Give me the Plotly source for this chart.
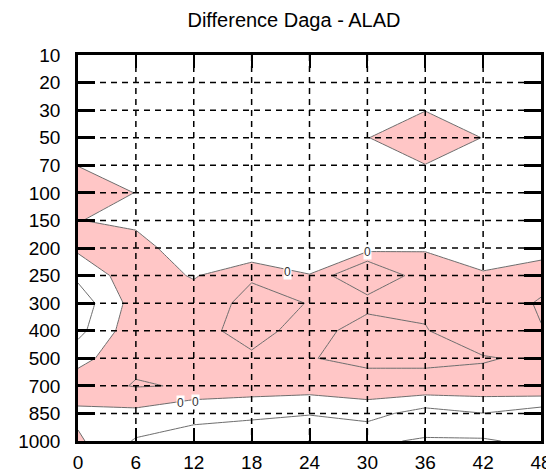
import plotly.graph_objects as go

# forecast hour (x) and pressure level (y, hPa) of the grid
hours = [0, 6, 12, 18, 24, 30, 36, 42, 48]
levels_hpa = ["10", "20", "30", "50", "70", "100", "150", "200", "250",
              "300", "400", "500", "700", "850", "1000"]

# difference field, one row per pressure level
diff_10 = [-0.3, -0.3, -0.3, -0.3, -0.3, -0.3, -0.3, -0.3, -0.3]
diff_20 = [-0.3, -0.3, -0.3, -0.3, -0.3, -0.3, -0.3, -0.3, -0.3]
diff_30 = [-0.3, -0.3, -0.3, -0.3, -0.3, -0.3, -0.03, -0.3, -0.3]
diff_50 = [-0.3, -0.3, -0.3, -0.3, -0.3, -0.03, 0.8, -0.03, -0.3]
diff_70 = [-0.03, -0.3, -0.3, -0.3, -0.3, -0.3, -0.03, -0.3, -0.3]
diff_100 = [0.8, -0.03, -0.3, -0.3, -0.3, -0.3, -0.3, -0.3, -0.3]
diff_150 = [0.03, -0.3, -0.5, -0.5, -0.5, -0.5, -0.5, -0.5, -0.5]
diff_200 = [0.195, 0.55, -0.9, -0.98, -0.9, -0.37, -0.03, -0.9, -0.5]
diff_250 = [-0.78, 0.64, -0.1, 0.926, 0.05, 2.5, 0.19, 0.184, 0.636]
diff_300 = [-1.6, 0.45, 0.6, 1.21, 0.98, 0.36, 0.83, 0.4, 1.1]
diff_400 = [-1.3, 0.7, 0.26, 1.8, 0.083, 2.0, 1.053, 0.3, 0.96]
diff_500 = [-0.35, 0.82, 0.7, 0.657, 0.963, 1.21, 1.169, 1.077, 0.829]
diff_700 = [0.61, 1.056, 0.937, 0.6, 0.45, 0.627, 0.70, 0.65, 0.925]
diff_850 = [-0.225, -0.264, -0.937, -0.9, -0.95, -0.627, -1.43, -1.017, -1.575]
diff_1000 = [0.15, -1.1, -1.09, -1.317, -1.78, -1.87, -2.085, -2.109, -1.75]

# contour labels "0" (hour, level index)
label_hours = [21.7, 30.0, 10.6, 12.2]
label_rows = [7.87, 7.15, 12.62, 12.6]
label_texts = ["0", "0", "0", "0"]

z = [diff_10, diff_20, diff_30, diff_50, diff_70, diff_100, diff_150, diff_200,
     diff_250, diff_300, diff_400, diff_500, diff_700, diff_850, diff_1000]
rows = list(range(len(levels_hpa)))

PINK = "#ffc6c6"
fig = go.Figure()
fig.add_trace(go.Contour(
    x=hours, y=rows, z=z,
    contours=dict(start=-2, end=1, size=1, coloring="fill", showlines=True),
    line=dict(color="#6e6e6e", width=1, smoothing=0),
    colorscale=[[0, "white"], [0.6, "white"], [0.65, PINK], [1, PINK]],
    showscale=False, hoverinfo="skip",
))

shapes = []
for h in hours[1:-1]:
    shapes.append(dict(type="line", xref="x", yref="y", x0=h, x1=h, y0=rows[0], y1=rows[-1],
                       line=dict(color="black", width=1.5, dash="6px,5px"), layer="above"))
for r in rows[1:-1]:
    shapes.append(dict(type="line", xref="x", yref="y", x0=hours[0], x1=hours[-1], y0=r, y1=r,
                       line=dict(color="black", width=1.5, dash="6px,5px"), layer="above"))

annotations = [dict(x=xh, y=yr, text=t, showarrow=False, xref="x", yref="y",
                    font=dict(family="Liberation Sans, Arial", size=12, color="#333"),
                    bgcolor="white", borderpad=0)
               for xh, yr, t in zip(label_hours, label_rows, label_texts)]

font = dict(family="Liberation Sans, Arial, sans-serif", size=19, color="black")
fig.update_layout(
    width=546, height=472,
    margin=dict(l=78, r=5, t=55, b=31, autoexpand=False),
    paper_bgcolor="white", plot_bgcolor="white",
    showlegend=False,
    title=dict(text="Difference Daga - ALAD", x=294 / 546, xanchor="center",
               y=1 - 20 / 472, yanchor="middle",
               font=dict(family="Liberation Sans, Arial, sans-serif", size=20, color="black")),
    shapes=shapes, annotations=annotations,
    xaxis=dict(range=[hours[0], hours[-1]], tickvals=hours, ticks="inside", ticklen=13,
               tickwidth=2, tickcolor="black", showline=True, linewidth=2.5, linecolor="black",
               mirror="ticks", showgrid=False, zeroline=False, tickfont=font,
               ticklabelstandoff=2, ticklabeloverflow="allow", automargin=False),
    yaxis=dict(range=[rows[-1], rows[0]], tickvals=rows, ticktext=levels_hpa, ticks="inside",
               ticklen=17, tickwidth=2.5, tickcolor="black", showline=True, linewidth=2.5,
               linecolor="black", mirror="ticks", showgrid=False, zeroline=False, tickfont=font,
               ticklabelstandoff=11, ticklabeloverflow="allow", automargin=False),
)

fig.write_html("out.html")
